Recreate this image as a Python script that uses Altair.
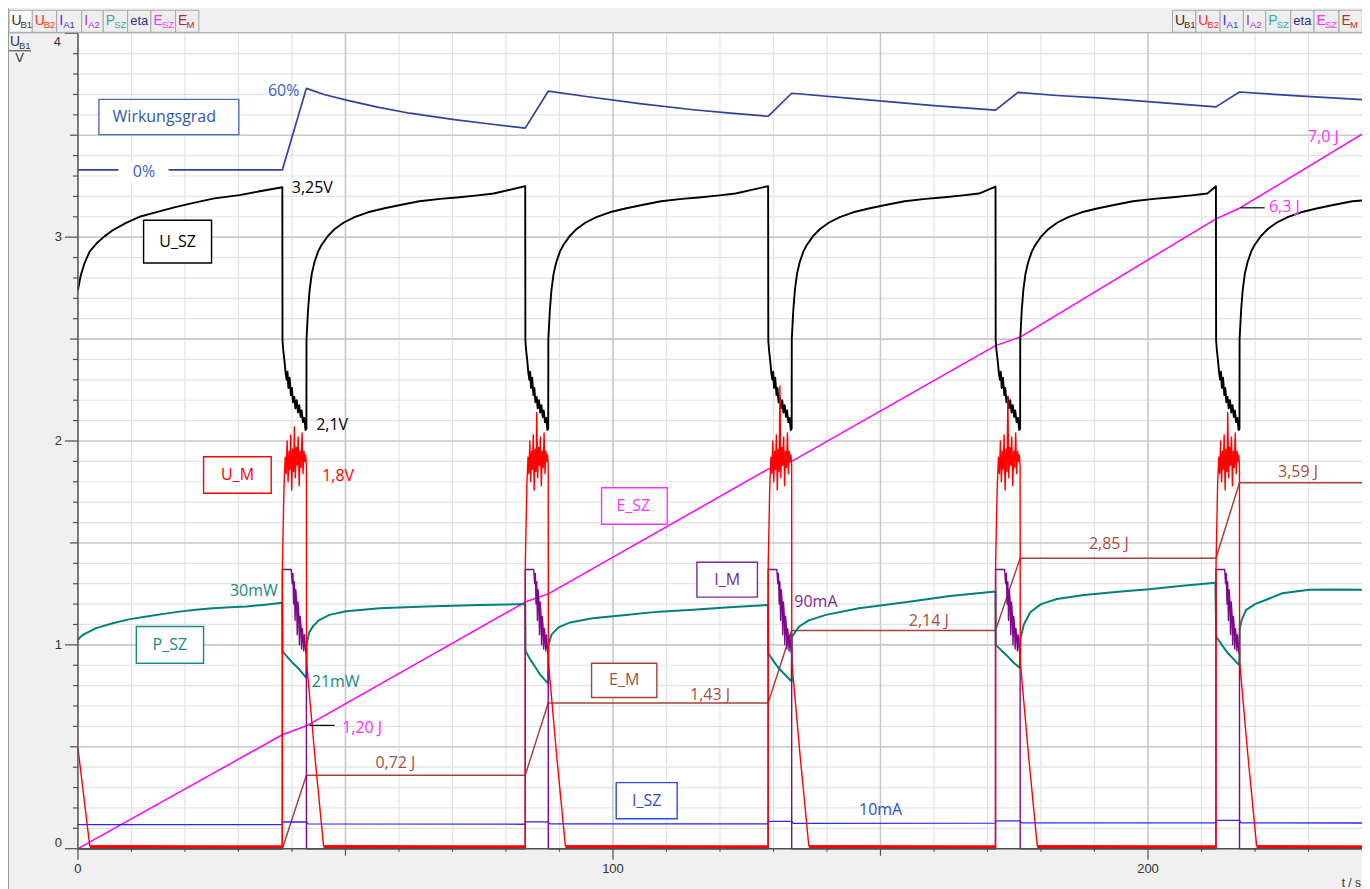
import altair as alt
import pandas as pd

# ---------------- data (t in s, values in units of the U_B1 axis) ----------------
X_MAX = 240.0
Y_MAX = 4.0

T_START = [38.2, 83.6, 129.0, 171.5, 212.7]   # motor phase begins
T_END = [42.7, 87.9, 133.4, 176.1, 217.1]     # motor phase ends

# U_SZ (black)
usz_init_t = [0, 0.5, 1.2, 2.2, 3.5, 5.0, 6.5, 9.0, 11.5, 14.7, 18.0, 21.4, 25.5, 30.2, 34.0]
usz_init_v = [2.74, 2.81, 2.87, 2.93, 2.97, 3.005, 3.034, 3.07, 3.10, 3.123, 3.146, 3.167, 3.19, 3.206, 3.225]
usz_peak = [3.245, 3.25, 3.25, 3.248, 3.25]
usz_drop_f = [0.007, 0.035, 0.086, 0.137, 0.181, 0.216, 0.251, 0.302, 0.356, 0.398, 0.442,
              0.498, 0.542, 0.598, 0.651, 0.702, 0.760, 0.802, 0.858, 0.912, 0.963, 1.0]
usz_drop_v = [2.495, 2.45, 2.397, 2.333, 2.30, 2.34, 2.26, 2.31, 2.225, 2.26, 2.19,
              2.216, 2.16, 2.2, 2.14, 2.176, 2.118, 2.15, 2.093, 2.113, 2.054, 2.06]
usz_charge_dt = [0.02, 0.3, 0.6, 1.0, 1.5, 2.2, 2.8, 4.0, 5.3, 7.0, 9.0, 11.5, 14.6, 18.0,
                 21.1, 25.0, 28.6, 32.0, 35.0]
usz_charge_v = [2.50, 2.64, 2.74, 2.82, 2.877, 2.93, 2.96, 3.005, 3.04, 3.072, 3.098, 3.122,
                3.142, 3.16, 3.176, 3.188, 3.196, 3.205, 3.214]
usz_end_t = 240.0
usz_end_v = 3.18

# U_M (red)
um_init_t = [0, 2.2]
um_init_v = [0.494, 0.015]
um_run_f = [0.0, 0.005, 0.07, 0.12, 0.16, 0.2, 0.24, 0.28, 0.31, 0.35, 0.39, 0.43, 0.47, 0.5,
            0.54, 0.58, 0.62, 0.66, 0.7, 0.74, 0.78, 0.82, 0.86, 0.9, 0.94, 0.97, 1.0]
um_run_v = [0.015, 1.40, 1.78, 1.92, 1.84, 2.0, 1.80, 1.95, 1.86, 2.03, 1.76, 1.96, 1.85, 2.06,
            1.82, 1.97, 1.88, 2.02, 1.78, 1.95, 1.87, 2.04, 1.84, 1.95, 1.90, 1.93, 1.88]
um_spike = [2.07, 2.14, 2.27, 2.22, 2.14]
um_spike_idx = 13
um_decay_dt = [0.02, 1.6, 3.2]
um_decay_v = [0.92, 0.45, 0.015]
um_base = 0.008

# I_M (purple)
im_run_f = [0.0, 0.37, 0.41, 0.44, 0.47, 0.50, 0.53, 0.56, 0.59, 0.62, 0.65, 0.68, 0.71, 0.74,
            0.77, 0.80, 0.83, 0.86, 0.89, 0.92, 0.95, 0.98, 1.0]
im_run_v = [1.37, 1.37, 1.30, 1.35, 1.20, 1.31, 1.12, 1.27, 1.22, 1.05, 1.21, 1.16, 1.00, 1.14,
            1.10, 0.98, 1.08, 1.04, 0.97, 1.05, 1.00, 0.96, 0.98]

# P_SZ (teal)
psz_t = [0, 0.5, 1.0, 3.4, 6.5, 9.5, 12.8, 16, 19, 22, 25.2, 28.5, 31.5, 35, 38.2,
         38.25, 39.0, 40.0, 41.0, 42.0, 42.7,
         42.75, 43.2, 43.9, 45.0, 47.0, 50.1, 56.4, 65, 75, 83.6,
         83.65, 84.5, 85.5, 86.5, 87.9,
         87.95, 88.5, 89.9, 92.0, 96.2, 102.4, 108.6, 115, 121, 129.0,
         129.05, 130.0, 131.0, 132.3, 133.4,
         133.45, 134.8, 136.6, 139.8, 146, 155, 163, 171.5,
         171.55, 172.7, 173.9, 175.0, 176.1,
         176.15, 176.8, 178, 180, 183, 188, 195, 200.2, 206, 212.6,
         212.75, 213.8, 214.9, 216.0, 217.1,
         217.15, 217.5, 218.3, 220, 222, 225.1, 230.1, 235, 240]
psz_v = [1.025, 1.04, 1.05, 1.082, 1.106, 1.125, 1.139, 1.152, 1.163, 1.172, 1.18, 1.185, 1.188, 1.197, 1.207,
         0.967, 0.945, 0.915, 0.89, 0.86, 0.837,
         1.0, 1.06, 1.09, 1.12, 1.147, 1.165, 1.18, 1.188, 1.195, 1.20,
         0.97, 0.93, 0.89, 0.85, 0.81,
         1.0, 1.05, 1.087, 1.11, 1.131, 1.147, 1.163, 1.172, 1.183, 1.196,
         0.959, 0.92, 0.885, 0.85, 0.82,
         1.04, 1.09, 1.12, 1.147, 1.18, 1.21, 1.24, 1.262,
         1.0, 0.97, 0.94, 0.91, 0.887,
         1.03, 1.10, 1.16, 1.20, 1.225, 1.245, 1.262, 1.273, 1.289, 1.305,
         1.04, 1.0, 0.96, 0.93, 0.90,
         1.08, 1.12, 1.17, 1.2, 1.22, 1.253, 1.27, 1.272, 1.27]

# I_SZ (blue)
isz_t = [0, 38.2, 38.25, 42.7, 43.0, 83.6, 83.65, 87.9, 88.2, 129.0, 129.05, 133.4, 133.7,
         171.5, 171.55, 176.1, 176.4, 212.7, 212.75, 217.1, 217.4, 240]
isz_v = [0.118, 0.118, 0.131, 0.131, 0.122, 0.12, 0.132, 0.132, 0.122, 0.122, 0.134, 0.134, 0.124,
         0.125, 0.137, 0.137, 0.127, 0.127, 0.139, 0.139, 0.127, 0.126]

# eta / Wirkungsgrad (navy)
eta_t = [0, 38.2, 42.7, 46, 50.2, 56, 62, 70, 77, 83.6, 87.9, 95, 105, 115, 122, 129.0,
         133.4, 145, 160, 171.5, 175.7, 183, 190.8, 200, 212.7, 217.1, 228, 240]
eta_v = [3.33, 3.33, 3.73, 3.70, 3.672, 3.638, 3.608, 3.578, 3.555, 3.535, 3.716, 3.69, 3.655,
         3.625, 3.608, 3.593, 3.706, 3.68, 3.645, 3.623, 3.71, 3.695, 3.683, 3.665, 3.639, 3.712,
         3.693, 3.675]

# E_SZ (magenta)
esz_t = [0, 38.2, 42.7, 83.6, 87.9, 129.0, 133.4, 171.5, 176.1, 212.7, 217.1, 240]
esz_v = [0, 0.559, 0.603, 1.21, 1.25, 1.862, 1.90, 2.468, 2.51, 3.09, 3.142, 3.505]

# E_M (brown)
em_t = [0, 38.2, 42.7, 83.6, 87.9, 129.0, 133.4, 171.5, 176.1, 212.7, 217.1, 240]
em_v = [0, 0, 0.36, 0.36, 0.715, 0.715, 1.07, 1.07, 1.425, 1.425, 1.795, 1.795]

# annotations
ann_text = ["60%", "0%", "Wirkungsgrad", "3,25V", "U_SZ", "2,1V", "U_M", "1,8V", "30mW", "P_SZ",
            "21mW", "1,20 J", "0,72 J", "E_SZ", "E_M", "1,43 J", "I_M", "90mA", "2,14 J", "I_SZ",
            "10mA", "2,85 J", "3,59 J", "6,3 J", "7,0 J"]
ann_t = [41.4, 12.33, 6.48, 39.97, 18.62, 44.53, 29.83, 45.65, 37.35, 17.18,
         43.7, 49.38, 55.6, 103.8, 102.1, 114.4, 121.35, 133.9, 155.3, 106.3,
         146.0, 188.96, 224.3, 222.6, 229.9]
ann_v = [3.716, 3.321, 3.59, 3.24, 2.975, 2.078, 1.833, 1.828, 1.265, 1.0,
         0.819, 0.592, 0.419, 1.681, 0.826, 0.755, 1.319, 1.212, 1.118, 0.235,
         0.191, 1.495, 1.85, 3.147, 3.492]
ann_color = ["#3b5bc4", "#3b5bc4", "#3356b0", "#000000", "#000000", "#000000", "#ff0000", "#ff0000",
             "#168a84", "#168a84", "#168a84", "#ff30ff", "#a5503f", "#ff30ff", "#a5503f", "#a5503f",
             "#7a2a9a", "#7a2a9a", "#a5503f", "#2a4fcf", "#2a4fcf", "#a5503f", "#a5503f", "#ff30ff",
             "#ff30ff"]
ann_align = ["right", "center", "left", "left", "center", "left", "center", "left", "right", "center",
             "left", "left", "left", "center", "center", "left", "center", "left", "left", "center",
             "left", "left", "left", "left", "left"]

box_t0 = [3.92, 12.27, 23.48, 10.91, 97.87, 96.0, 115.69, 100.6]
box_t1 = [30.07, 24.97, 36.12, 23.48, 110.14, 108.2, 127.0, 112.0]
box_v0 = [3.503, 2.873, 1.744, 0.91, 1.592, 0.742, 1.234, 0.147]
box_v1 = [3.676, 3.083, 1.923, 1.09, 1.771, 0.91, 1.405, 0.324]
box_color = ["#4a6cc0", "#000000", "#ff0000", "#168a84", "#ff30ff", "#a5433b", "#7a2a9a", "#2a4fcf"]

gap_t0, gap_t1, gap_v0, gap_v1 = 7.6, 16.94, 3.275, 3.368

leader_t0 = [43.28, 217.3]
leader_t1 = [47.95, 221.8]
leader_v = [0.605, 3.144]

# toolbar
btn_main = ["U", "U", "I", "I", "P", "eta", "E", "E"]
btn_sub = ["B1", "B2", "A1", "A2", "SZ", "", "SZ", "M"]
btn_color = ["#303030", "#ff2a2a", "#3030ff", "#a040b0", "#30aaaa", "#303080", "#ff30ff", "#b03030"]
btn_edges_left = [9, 32.3, 56.7, 81.7, 103.3, 127.7, 151, 175.7, 199]
btn_edges_right = [1173.3, 1196.7, 1221, 1244.3, 1266.7, 1291.7, 1315, 1340, 1363.3]
main_w = {"U": 9.0, "I": 4.0, "P": 8.5, "E": 8.5, "eta": 0.0}

# ---------------- layout constants ----------------
W, H = 1285, 816
PX0, PY0 = 78, 33  # plot origin on the page

XS = alt.Scale(domain=[0, X_MAX], nice=False, zero=False)
YS = alt.Scale(domain=[0, Y_MAX], nice=False, zero=False)


def xe(f):
    return alt.X(f, type="quantitative", scale=XS, axis=None)


def ye(f):
    return alt.Y(f, type="quantitative", scale=YS, axis=None)


def line(pairs, color, width, opacity=1.0):
    df = pd.DataFrame(pairs, columns=["t", "v"])
    df["i"] = range(len(df))
    return alt.Chart(df).mark_line(color=color, strokeWidth=width, opacity=opacity,
                                   strokeJoin="round").encode(
        x=xe("t"), y=ye("v"), order=alt.Order("i:Q"))


# ---- build series ----
usz = list(zip(usz_init_t, usz_init_v))
for i, (ts, te) in enumerate(zip(T_START, T_END)):
    usz.append((ts, usz_peak[i]))
    d = te - ts
    usz += [(ts + f * d, v) for f, v in zip(usz_drop_f, usz_drop_v)]
    nxt = T_START[i + 1] if i + 1 < len(T_START) else X_MAX
    usz += [(te + dt, v) for dt, v in zip(usz_charge_dt, usz_charge_v) if te + dt < nxt - 0.8]
usz.append((usz_end_t, usz_end_v))

um = list(zip(um_init_t, um_init_v))
um_flat = [(um_init_t[-1], T_START[0])]
for i, (ts, te) in enumerate(zip(T_START, T_END)):
    d = te - ts
    um.append((ts, um_base))
    vals = list(um_run_v)
    vals[um_spike_idx] = um_spike[i]
    um += [(ts + f * d, v) for f, v in zip(um_run_f, vals)]
    um += [(te + dt, v) for dt, v in zip(um_decay_dt, um_decay_v)]
    nxt = T_START[i + 1] if i + 1 < len(T_START) else X_MAX
    um_flat.append((te + um_decay_dt[-1], nxt))
um.append((X_MAX, um_base))

im = [(0, 0)]
for ts, te in zip(T_START, T_END):
    d = te - ts
    im.append((ts, 0))
    im += [(ts + f * d, v) for f, v in zip(im_run_f, im_run_v)]
    im.append((te + 0.01, 0))
im.append((X_MAX, 0))

# ---- grid ----
minor_t = [t for t in range(10, 240, 10) if t % 50 != 0]
major_t = [50, 100, 150, 200]
minor_v = [round(k * 0.1, 1) for k in range(1, 40) if k % 5 != 0]
major_v = [0.5, 1.0, 1.5, 2.0, 2.5, 3.0, 3.5]

layers = []
layers.append(alt.Chart(pd.DataFrame({"t": minor_t})).mark_rule(color="#e3e3e3", strokeWidth=1.2).encode(x=xe("t")))
layers.append(alt.Chart(pd.DataFrame({"v": minor_v})).mark_rule(color="#e3e3e3", strokeWidth=1.2).encode(y=ye("v")))
layers.append(alt.Chart(pd.DataFrame({"t": major_t})).mark_rule(color="#c8c8c8", strokeWidth=1.6).encode(x=xe("t")))
layers.append(alt.Chart(pd.DataFrame({"v": major_v})).mark_rule(color="#c8c8c8", strokeWidth=1.6).encode(y=ye("v")))

# ---- series lines ----
layers.append(line(list(zip(eta_t, eta_v)), "#33419c", 1.7))
layers.append(line(list(zip(esz_t, esz_v)), "#ff00ff", 1.5))
layers.append(line(list(zip(em_t, em_v)), "#a5433b", 1.5))
layers.append(line(list(zip(isz_t, isz_v)), "#2828ff", 1.3))
layers.append(line(list(zip(psz_t, psz_v)), "#00807a", 2.0))
layers.append(line(im, "#7d0a8c", 1.4))
layers.append(line(usz, "#000000", 1.9))
layers.append(line(um, "#ff0000", 1.4))
layers.append(alt.Chart(pd.DataFrame({"t0": [a for a, b in um_flat], "t1": [b for a, b in um_flat],
                                      "v": [um_base] * len(um_flat)}))
              .mark_rule(color="#ff0000", strokeWidth=3.5)
              .encode(x=xe("t0"), x2="t1:Q", y=ye("v")))

# ---- axis lines, ticks, tick labels ----
layers.append(alt.Chart(pd.DataFrame({"t": [0.0], "v0": [0.0], "v1": [Y_MAX]}))
              .mark_rule(color="#505050", strokeWidth=1.5).encode(x=xe("t"), y=ye("v0"), y2="v1:Q"))
layers.append(alt.Chart(pd.DataFrame({"v": [0.0], "t0": [0.0], "t1": [X_MAX]}))
              .mark_rule(color="#505050", strokeWidth=1.5).encode(y=ye("v"), x=xe("t0"), x2="t1:Q"))

xt_small = [t for t in range(10, 240, 10) if t % 50 != 0]
xt_mid = [50, 150]
xt_big = [0, 100, 200]
for vals, ln in [(xt_small, 3), (xt_mid, 7), (xt_big, 11)]:
    layers.append(alt.Chart(pd.DataFrame({"t": vals})).mark_rule(color="#505050", strokeWidth=1.2)
                  .encode(x=xe("t"), y=alt.value(H), y2=alt.value(H + ln)))
yt_small = minor_v
yt_mid = [0.5, 1.5, 2.5, 3.5]
yt_big = [0, 1, 2, 3, 4]
for vals, ln in [(yt_small, 5), (yt_mid, 8), (yt_big, 13)]:
    layers.append(alt.Chart(pd.DataFrame({"v": vals})).mark_rule(color="#505050", strokeWidth=1.2)
                  .encode(y=ye("v"), x=alt.value(0), x2=alt.value(-ln)))

tick_font = "Liberation Sans"
layers.append(alt.Chart(pd.DataFrame({"t": [0, 100, 200], "lab": ["0", "100", "200"]}))
              .mark_text(font=tick_font, fontSize=13, color="#333333", baseline="middle", align="center")
              .encode(x=xe("t"), y=alt.value(H + 20), text="lab:N"))
layers.append(alt.Chart(pd.DataFrame({"v": [1, 2, 3], "lab": ["1", "2", "3"]}))
              .mark_text(font=tick_font, fontSize=13, color="#333333", baseline="middle", align="right")
              .encode(y=ye("v"), x=alt.value(-16), text="lab:N"))
layers.append(alt.Chart(pd.DataFrame({"v": [0], "lab": ["0"]}))
              .mark_text(font=tick_font, fontSize=13, color="#333333", baseline="bottom", align="right", dy=1)
              .encode(y=ye("v"), x=alt.value(-16), text="lab:N"))
layers.append(alt.Chart(pd.DataFrame({"v": [4], "lab": ["4"]}))
              .mark_text(font=tick_font, fontSize=13, color="#333333", baseline="top", align="right", dy=3)
              .encode(y=ye("v"), x=alt.value(-17), text="lab:N"))
layers.append(alt.Chart(pd.DataFrame({"lab": ["t / s"]}))
              .mark_text(font=tick_font, fontSize=12, color="#333333", baseline="middle", align="right")
              .encode(x=alt.value(W - 1), y=alt.value(H + 34), text="lab:N"))

# ---- y axis title ----
layers.append(alt.Chart(pd.DataFrame({"lab": ["U"]}))
              .mark_text(font=tick_font, fontSize=14, color="#333333", baseline="middle", align="left")
              .encode(x=alt.value(10 - PX0), y=alt.value(42 - PY0), text="lab:N"))
layers.append(alt.Chart(pd.DataFrame({"lab": ["B1"]}))
              .mark_text(font=tick_font, fontSize=9.5, color="#333333", baseline="middle", align="left")
              .encode(x=alt.value(19 - PX0), y=alt.value(46 - PY0), text="lab:N"))
layers.append(alt.Chart(pd.DataFrame({"lab": ["V"]}))
              .mark_text(font=tick_font, fontSize=13, color="#333333", baseline="middle", align="center")
              .encode(x=alt.value(19.5 - PX0), y=alt.value(58 - PY0), text="lab:N"))
layers.append(alt.Chart(pd.DataFrame({"k": [0]})).mark_rule(color="#333333", strokeWidth=1)
              .encode(x=alt.value(8 - PX0), x2=alt.value(31 - PX0), y=alt.value(50.5 - PY0)))

# ---- frame / toolbar ----
layers.append(alt.Chart(pd.DataFrame({"k": [0]})).mark_rule(color="#9a9a9a", strokeWidth=1)
              .encode(x=alt.value(8.5 - PX0), y=alt.value(8 - PY0), y2=alt.value(H + 60)))
layers.append(alt.Chart(pd.DataFrame({"k": [0]})).mark_rule(color="#9a9a9a", strokeWidth=1)
              .encode(x=alt.value(8 - PX0), x2=alt.value(W), y=alt.value(-0.5)))

rows = []
for edges, grp in [(btn_edges_left, "L"), (btn_edges_right, "R")]:
    for k in range(8):
        x0 = edges[k] - PX0
        x1 = edges[k + 1] - PX0
        m = btn_main[k]
        rows.append({"x0": x0, "x1": x1, "y0": 10 - PY0, "y1": 32 - PY0,
                     "fill": "#fbfbfb" if (grp == "L" and k == 0) else "#eeeeee",
                     "main": m, "sub": btn_sub[k], "c": btn_color[k],
                     "mx": x0 + 2.5, "sx": x0 + 2.5 + main_w[m], "cx": (x0 + x1) / 2})
btn = pd.DataFrame(rows)
layers.append(alt.Chart(btn).mark_rect(stroke="#a8a8a8", strokeWidth=1).encode(
    x=alt.X("x0:Q", scale=None), x2="x1:Q", y=alt.Y("y0:Q", scale=None), y2="y1:Q",
    fill=alt.Fill("fill:N", scale=None)))
btn_l = btn[btn["main"] != "eta"]
btn_e = btn[btn["main"] == "eta"]
layers.append(alt.Chart(btn_l).mark_text(font=tick_font, fontSize=14, align="left", baseline="middle").encode(
    x=alt.X("mx:Q", scale=None), y=alt.value(20.5 - PY0), text="main:N", color=alt.Color("c:N", scale=None)))
layers.append(alt.Chart(btn_l).mark_text(font=tick_font, fontSize=9.5, align="left", baseline="middle").encode(
    x=alt.X("sx:Q", scale=None), y=alt.value(24.5 - PY0), text="sub:N", color=alt.Color("c:N", scale=None)))
layers.append(alt.Chart(btn_e).mark_text(font=tick_font, fontSize=13, align="center", baseline="middle").encode(
    x=alt.X("cx:Q", scale=None), y=alt.value(20.5 - PY0), text="main:N", color=alt.Color("c:N", scale=None)))

# ---- annotation boxes & labels ----
layers.append(alt.Chart(pd.DataFrame({"t0": [gap_t0], "t1": [gap_t1], "v0": [gap_v0], "v1": [gap_v1]}))
              .mark_rect(fill="white").encode(x=xe("t0"), x2="t1:Q", y=ye("v0"), y2="v1:Q"))
layers.append(alt.Chart(pd.DataFrame({"t0": box_t0, "t1": box_t1, "v0": box_v0, "v1": box_v1, "c": box_color}))
              .mark_rect(fill="white", strokeWidth=1.4)
              .encode(x=xe("t0"), x2="t1:Q", y=ye("v0"), y2="v1:Q", stroke=alt.Stroke("c:N", scale=None)))
layers.append(alt.Chart(pd.DataFrame({"t0": leader_t0, "t1": leader_t1, "v": leader_v}))
              .mark_rule(color="#000000", strokeWidth=1.2).encode(x=xe("t0"), x2="t1:Q", y=ye("v")))

ann = pd.DataFrame({"text": ann_text, "t": ann_t, "v": ann_v, "c": ann_color, "al": ann_align})
for al in ["left", "center", "right"]:
    sub = ann[ann["al"] == al]
    layers.append(alt.Chart(sub).mark_text(font="Open Sans", fontSize=16, align=al, baseline="middle")
                  .encode(x=xe("t"), y=ye("v"), text="text:N", color=alt.Color("c:N", scale=None)))

chart = alt.layer(*layers).properties(
    width=W, height=H,
    autosize=alt.AutoSizeParams(type="none"),
    padding={"left": PX0 - 8, "top": PY0 - 8, "right": 0, "bottom": 40},
    background="#f0f0f0",
).configure_view(fill="white", stroke=None)

chart.save("out.html", embed_options={"renderer": "svg", "actions": False})
